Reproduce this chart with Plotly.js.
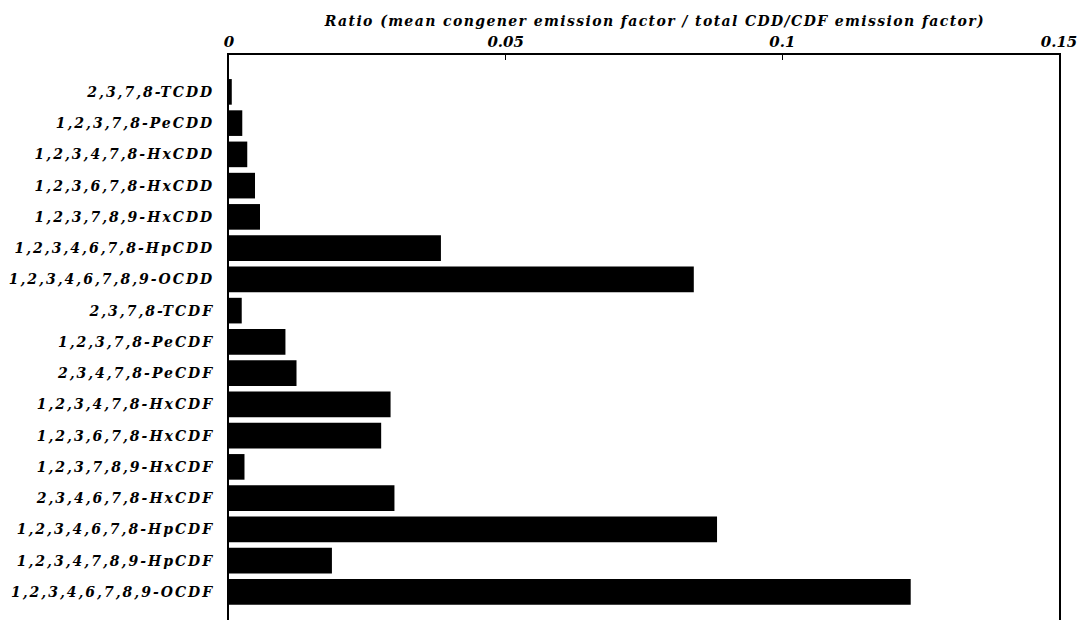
<!DOCTYPE html>
<html>
<head>
<meta charset="utf-8">
<script src="https://cdn.plot.ly/plotly-3.0.1.min.js"></script>
<style>
html,body{margin:0;padding:0;background:#fff;overflow:hidden;}
#chart .ytick text{letter-spacing:2px;}
#chart .annotation-text{letter-spacing:1.4px;}
</style>
</head>
<body>
<div id="chart" style="width:1085px;height:620px;"></div>
<script>
const congeners = [
  "2,3,7,8-TCDD",
  "1,2,3,7,8-PeCDD",
  "1,2,3,4,7,8-HxCDD",
  "1,2,3,6,7,8-HxCDD",
  "1,2,3,7,8,9-HxCDD",
  "1,2,3,4,6,7,8-HpCDD",
  "1,2,3,4,6,7,8,9-OCDD",
  "2,3,7,8-TCDF",
  "1,2,3,7,8-PeCDF",
  "2,3,4,7,8-PeCDF",
  "1,2,3,4,7,8-HxCDF",
  "1,2,3,6,7,8-HxCDF",
  "1,2,3,7,8,9-HxCDF",
  "2,3,4,6,7,8-HxCDF",
  "1,2,3,4,6,7,8-HpCDF",
  "1,2,3,4,7,8,9-HpCDF",
  "1,2,3,4,6,7,8,9-OCDF"
];
const ratios = [
  0.0005, 0.0024, 0.0033, 0.0047, 0.0056, 0.0383, 0.0840,
  0.0023, 0.0102, 0.0122, 0.0292, 0.0275, 0.0028, 0.0299,
  0.0882, 0.0186, 0.1232
];
const xTicks = [0, 0.05, 0.1, 0.15];
const xTickText = ["0", "0.05", "0.1", "0.15"];
const xTitle = "Ratio (mean congener emission factor / total CDD/CDF emission factor)";

const serif = "DejaVu Serif, Liberation Serif, serif";

Plotly.newPlot("chart", [{
  type: "bar",
  orientation: "h",
  x: ratios,
  y: congeners,
  marker: {color: "#000000", line: {width: 0}},
  hoverinfo: "x+y"
}], {
  width: 1085,
  height: 620,
  margin: {l: 229, r: 26, t: 55, b: 0, pad: 0},
  paper_bgcolor: "#ffffff",
  plot_bgcolor: "#ffffff",
  bargap: 0.18,
  showlegend: false,
  annotations: [{
    text: xTitle,
    xref: "paper", yref: "paper",
    x: 0.5, y: 1,
    xanchor: "center", yanchor: "middle",
    xshift: 10, yshift: 34,
    showarrow: false,
    font: {family: serif, size: 14, color: "#000", weight: "bold", style: "italic"}
  }],
  xaxis: {
    side: "top",
    range: [0, 0.15],
    tickvals: xTicks,
    ticktext: xTickText,
    ticks: "inside",
    ticklen: 5,
    tickcolor: "#000",
    tickwidth: 1,
    showgrid: false,
    zeroline: false,
    showline: true,
    linecolor: "#000",
    linewidth: 2,
    tickfont: {family: serif, size: 15, color: "#000", weight: "bold", style: "italic"},
    fixedrange: true
  },
  yaxis: {
    type: "category",
    categoryorder: "array",
    categoryarray: congeners,
    range: [16.9, -1.18],
    showline: true,
    mirror: true,
    linecolor: "#000",
    linewidth: 2,
    ticks: "",
    showgrid: false,
    zeroline: false,
    ticklabelstandoff: 10,
    tickfont: {family: serif, size: 14, color: "#000", weight: "bold", style: "italic"},
    fixedrange: true
  }
}, {displayModeBar: false, staticPlot: true});
</script>
</body>
</html>
